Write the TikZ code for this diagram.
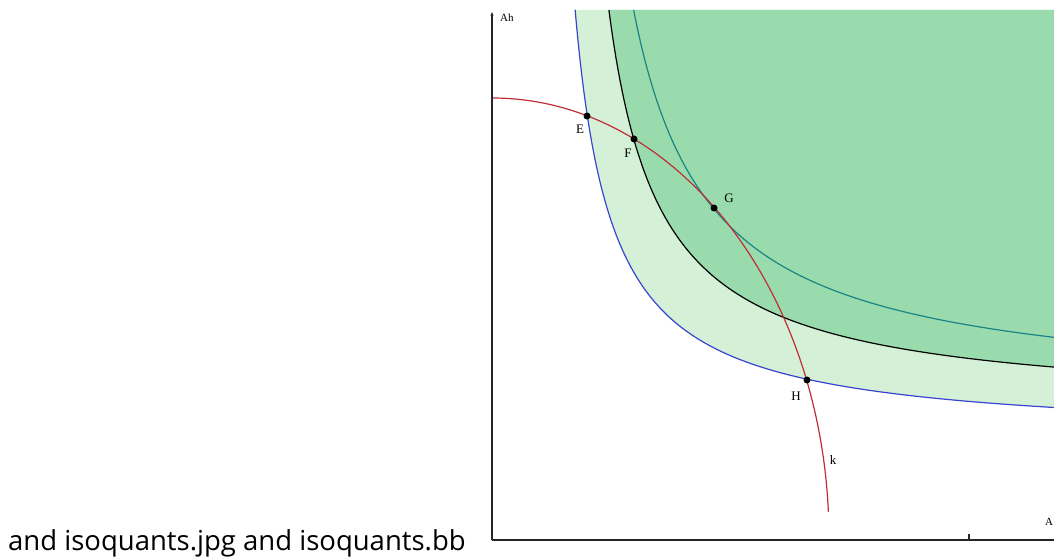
\documentclass[tikz,border=0pt]{standalone}
\usepackage{fontspec}
\setmainfont{Liberation Serif}
\newfontfamily\rotulo{Open Sans}
\usetikzlibrary{arrows.meta}
\definecolor{verdeclaro}{rgb}{0.83,0.94,0.84}
\definecolor{verdeoscuro}{rgb}{0.60,0.86,0.68}
\definecolor{azuliso}{rgb}{0.22,0.27,0.82}
\definecolor{tealiso}{rgb}{0.10,0.52,0.52}
\definecolor{rojok}{rgb}{0.75,0.18,0.22}
\tikzset{
  isocuanta/.style={
    line width=1.2pt,
    smooth,
    samples=200
  },
  curvak/.style={
    line width=1.2pt,
    rojok
  },
  punto/.style={
    circle,
    fill=black,
    inner sep=0pt,
    minimum size=7pt
  },
  etiqueta/.style={
    inner sep=1pt,
    font=\fontsize{13}{15}\selectfont
  },
  eje/.style={
    line width=1.5pt,
    black!85
  }
}

\begin{document}
\begin{tikzpicture}[x=1pt,y=1pt]
\useasboundingbox (0,0) rectangle (1054,557);
% zonas sombreadas
\fill[verdeclaro] (575.1,547) -- plot[isocuanta,domain=575.1:1054] (\x,{118.7+15.9/((\x-538)/1000)}) -- (1054,547) -- cycle;
\fill[verdeoscuro] (608.9,547) -- plot[isocuanta,domain=608.9:1054] (\x,{148.3+20.69/((\x-557)/1000)}) -- (1054,547) -- cycle;
% isocuantas
\draw[isocuanta,azuliso] plot[domain=575.1:1054] (\x,{118.7+15.9/((\x-538)/1000)});
\draw[isocuanta,black] plot[domain=608.9:1054] (\x,{148.3+20.69/((\x-557)/1000)});
\draw[isocuanta,tealiso] plot[domain=633.6:1054] (\x,{160.8+29.2/((\x-558)/1000)});
% curva k
\draw[curvak] (492,459) arc[start angle=90,end angle=3.4,x radius=337,y radius=440];
% ejes
\coordinate (origen) at (492,17);
\coordinate (ytop) at (492,545);
\coordinate (xfin) at (1054,17);
\draw[eje,-{Stealth[length=4pt,width=3pt]}] (origen) -- (ytop);
\draw[eje] (origen) -- (xfin);
\draw[eje] (969,17) -- (969,23);
\node[etiqueta,anchor=west,font=\fontsize{11}{13}\selectfont] (ah) at (499,539) {Ah};
\node[etiqueta,anchor=west,font=\fontsize{11}{13}\selectfont] (ak) at (1044,35) {A};
% puntos
\node[punto] (E) at (587,441) {};
\node[punto] (F) at (634,418) {};
\node[punto] (G) at (714,349) {};
\node[punto] (H) at (807,177) {};
\node[etiqueta] (lE) at (580,428) {E};
\node[etiqueta] (lF) at (628,404) {F};
\node[etiqueta] (lG) at (729,359) {G};
\node[etiqueta] (lH) at (796,161) {H};
\node[etiqueta] (lk) at (833,97) {k};
% texto de la izquierda
\node[anchor=base west,inner sep=0pt,font=\rotulo\fontsize{27.5}{32}\selectfont] (pie) at (8,7) {and isoquants.jpg and isoquants.bb};
\end{tikzpicture}
\end{document}
